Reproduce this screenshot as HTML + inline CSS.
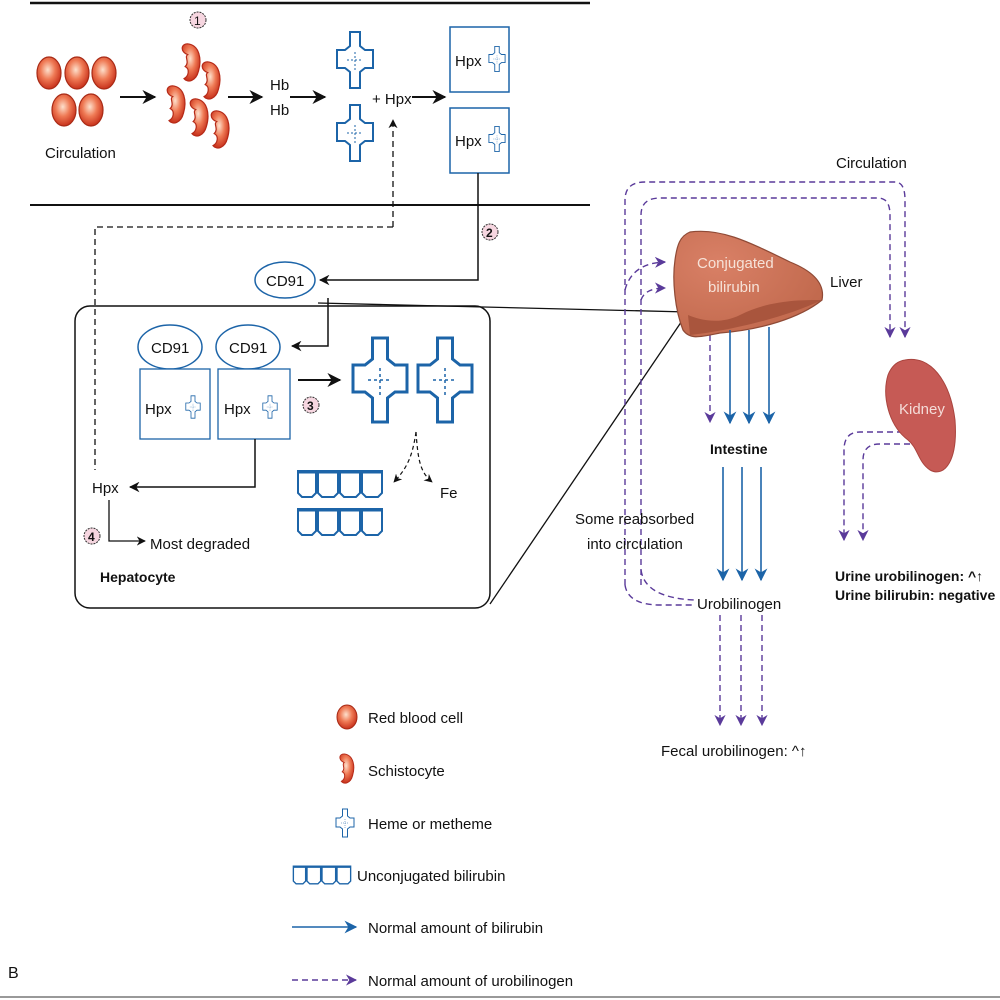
<!DOCTYPE html>
<html><head><meta charset="utf-8"><style>
html,body{margin:0;padding:0;background:#fff}
svg{display:block}
text{font-family:"Liberation Sans",Arial,sans-serif;font-size:15px;fill:#111}
</style></head><body>
<svg width="1000" height="1000" viewBox="0 0 1000 1000" xmlns="http://www.w3.org/2000/svg">
<defs>
<radialGradient id="rbc" cx="0.45" cy="0.4" r="0.6"><stop offset="0" stop-color="#fde0cc"/><stop offset="0.5" stop-color="#ef7a55"/><stop offset="1" stop-color="#c8321c"/></radialGradient>
<radialGradient id="liv" cx="0.3" cy="0.3" r="0.8"><stop offset="0" stop-color="#d98066"/><stop offset="1" stop-color="#c0684c"/></radialGradient>
<marker id="ab" viewBox="0 0 10 10" refX="9" refY="5" markerWidth="7" markerHeight="7" orient="auto"><path d="M0,0 L10,5 L0,10 L3,5z" fill="#111"/></marker>
<marker id="abl" viewBox="0 0 10 10" refX="9" refY="5" markerWidth="8" markerHeight="8" orient="auto"><path d="M0,0 L10,5 L0,10 L3,5z" fill="#1c64a8"/></marker>
<marker id="apu" viewBox="0 0 10 10" refX="9" refY="5" markerWidth="8" markerHeight="8" orient="auto"><path d="M0,0 L10,5 L0,10 L3,5z" fill="#5a3a9a"/></marker>
<symbol id="heme" viewBox="0 0 40 60"><path d="M15,2 H25 V16 L30,20 H38 V38 H30 L25,42 V58 H15 V42 L10,38 H2 V20 H10 L15,16Z" fill="none" stroke="#1c64a8" stroke-width="2"/><path d="M20,22 V40 M12,30 H28" stroke="#1c64a8" stroke-width="1" stroke-dasharray="2,2"/></symbol>
<symbol id="bili" viewBox="0 0 88 30"><path d="M2,2 H20 V24 L16,28 H6 L2,24Z M22,2 H42 V24 L38,28 H26 L22,24Z M44,2 H64 V24 L60,28 H48 L44,24Z M66,2 H86 V24 L82,28 H70 L66,24Z" fill="none" stroke="#1c64a8" stroke-width="2"/><path d="M2,3 H86" stroke="#1c64a8" stroke-width="3"/></symbol>
<symbol id="schis" viewBox="0 0 20 34"><path d="M8,1 C18,2 20,14 17,24 C15,32 8,34 5,30 C9,28 10,22 6,20 C10,16 5,12 8,10 C2,8 2,1 8,1Z" fill="url(#rbc)" stroke="#b52a18" stroke-width="1"/></symbol>
</defs>

<line x1="30" y1="3" x2="590" y2="3" stroke="#111" stroke-width="2.5"/>
<line x1="30" y1="205" x2="590" y2="205" stroke="#111" stroke-width="2"/>
<line x1="0" y1="997" x2="1000" y2="997" stroke="#999" stroke-width="2"/>

<g stroke="#a82a15" stroke-width="1.2" fill="url(#rbc)">
<ellipse cx="49" cy="73" rx="12" ry="16"/><ellipse cx="77" cy="73" rx="12" ry="16"/><ellipse cx="104" cy="73" rx="12" ry="16"/>
<ellipse cx="64" cy="110" rx="12" ry="16"/><ellipse cx="91" cy="110" rx="12" ry="16"/></g>
<text x="45" y="158">Circulation</text>
<line x1="120" y1="97" x2="155" y2="97" stroke="#111" stroke-width="2" marker-end="url(#ab)"/>
<circle cx="198" cy="20" r="8" fill="#f6d6e0" stroke="#333" stroke-dasharray="2,1"/><text x="194" y="25" style="font-size:12px">1</text>
<use href="#schis" x="178" y="40" width="24" height="46"/><use href="#schis" x="198" y="60" width="24" height="42"/>
<use href="#schis" x="163" y="82" width="24" height="46"/><use href="#schis" x="186" y="95" width="24" height="46"/><use href="#schis" x="207" y="106" width="24" height="48"/>
<line x1="228" y1="97" x2="262" y2="97" stroke="#111" stroke-width="2" marker-end="url(#ab)"/>
<text x="270" y="90">Hb</text><text x="270" y="115">Hb</text>
<line x1="290" y1="97" x2="325" y2="97" stroke="#111" stroke-width="2" marker-end="url(#ab)"/>
<use href="#heme" x="335" y="28" width="40" height="64"/><use href="#heme" x="335" y="100" width="40" height="66"/>
<text x="372" y="104">+ Hpx</text>
<line x1="412" y1="97" x2="445" y2="97" stroke="#111" stroke-width="2" marker-end="url(#ab)"/>
<rect x="450" y="27" width="59" height="65" fill="none" stroke="#1c64a8" stroke-width="1.5"/>
<rect x="450" y="108" width="59" height="65" fill="none" stroke="#1c64a8" stroke-width="1.5"/>
<text x="455" y="66">Hpx</text><text x="455" y="146">Hpx</text>
<use href="#heme" x="488" y="45" width="18" height="28"/><use href="#heme" x="488" y="125" width="18" height="28"/>

<path d="M393,227 V120" stroke="#111" stroke-width="1.3" stroke-dasharray="6,4" fill="none" marker-end="url(#ab)"/>
<path d="M393,227 H95 V470" stroke="#111" stroke-width="1.3" stroke-dasharray="6,4" fill="none"/>
<path d="M478,173 V280 H320" stroke="#111" stroke-width="1.5" fill="none" marker-end="url(#ab)"/>
<circle cx="490" cy="232" r="8" fill="#f6d6e0" stroke="#333" stroke-dasharray="2,1"/><text x="486" y="237" style="font-size:12px;font-weight:bold">2</text>
<ellipse cx="285" cy="280" rx="30" ry="18" fill="#fff" stroke="#1c64a8" stroke-width="1.5"/><text x="266" y="286">CD91</text>

<line x1="318" y1="303" x2="688" y2="312" stroke="#111" stroke-width="1.3"/>
<line x1="490" y1="604" x2="688" y2="312" stroke="#111" stroke-width="1.3"/>
<rect x="75" y="306" width="415" height="302" rx="15" fill="none" stroke="#111" stroke-width="1.5"/>
<path d="M328,298 V346 H292" stroke="#111" stroke-width="1.5" fill="none" marker-end="url(#ab)"/>
<ellipse cx="170" cy="347" rx="32" ry="22" fill="#fff" stroke="#1c64a8" stroke-width="1.5"/><text x="151" y="353">CD91</text>
<ellipse cx="248" cy="347" rx="32" ry="22" fill="#fff" stroke="#1c64a8" stroke-width="1.5"/><text x="229" y="353">CD91</text>
<rect x="140" y="369" width="70" height="70" fill="#fff" stroke="#1c64a8" stroke-width="1.3"/>
<rect x="218" y="369" width="72" height="70" fill="#fff" stroke="#1c64a8" stroke-width="1.3"/>
<text x="145" y="414">Hpx</text><text x="224" y="414">Hpx</text>
<use href="#heme" x="185" y="392" width="16" height="30"/><use href="#heme" x="262" y="392" width="16" height="30"/>
<line x1="298" y1="380" x2="340" y2="380" stroke="#111" stroke-width="2" marker-end="url(#ab)"/>
<circle cx="311" cy="405" r="8" fill="#f6d6e0" stroke="#333" stroke-dasharray="2,1"/><text x="307" y="410" style="font-size:12px;font-weight:bold">3</text>
<use href="#heme" x="349" y="335" width="62" height="90"/><use href="#heme" x="414" y="335" width="62" height="90"/>
<path d="M416,432 C412,460 405,470 394,482" stroke="#111" stroke-width="1.2" stroke-dasharray="4,3" fill="none" marker-end="url(#ab)"/>
<path d="M416,432 C418,460 420,472 432,482" stroke="#111" stroke-width="1.2" stroke-dasharray="4,3" fill="none" marker-end="url(#ab)"/>
<text x="440" y="498">Fe</text>
<use href="#bili" x="296" y="468" width="88" height="32"/><use href="#bili" x="296" y="506" width="88" height="32"/>
<path d="M255,439 V487 H130" stroke="#111" stroke-width="1.5" fill="none" marker-end="url(#ab)"/>
<text x="92" y="493">Hpx</text>
<path d="M109,500 V541 H145" stroke="#111" stroke-width="1.3" fill="none" marker-end="url(#ab)"/>
<circle cx="92" cy="536" r="8" fill="#f6d6e0" stroke="#333" stroke-dasharray="2,1"/><text x="88" y="541" style="font-size:12px;font-weight:bold">4</text>
<text x="150" y="549">Most degraded</text>
<text x="100" y="582" style="font-weight:bold;font-size:14px">Hepatocyte</text>

<g stroke="#5a3a9a" stroke-width="1.4" stroke-dasharray="6,4" fill="none">
<path d="M625,585 V200 Q625,182 645,182 H895 Q905,182 905,200 V337" marker-end="url(#apu)"/>
<path d="M641,585 V215 Q641,198 660,198 H878 Q890,198 890,215 V337" marker-end="url(#apu)"/>
<path d="M625,585 Q628,605 660,605 H695"/>
<path d="M641,570 Q645,598 695,600"/>
<path d="M625,290 Q632,263 665,262" marker-end="url(#apu)"/>
<path d="M641,300 Q645,288 665,288" marker-end="url(#apu)"/>
<path d="M710,335 V422" marker-end="url(#apu)"/>
<path d="M720,615 V725" marker-end="url(#apu)"/><path d="M741,615 V725" marker-end="url(#apu)"/><path d="M762,615 V725" marker-end="url(#apu)"/>
<path d="M903,432 H860 Q844,432 844,450 V540" marker-end="url(#apu)"/>
<path d="M910,444 H880 Q863,444 863,460 V540" marker-end="url(#apu)"/>
</g>
<path d="M690,232 C720,228 745,240 790,262 C815,272 825,285 822,300 C800,318 760,330 720,333 C700,337 690,340 683,330 C675,310 672,280 675,260 C677,245 680,236 690,232Z" fill="url(#liv)" stroke="#8f4a36" stroke-width="1.2"/>
<path d="M690,335 C720,332 780,320 822,300 C800,300 770,300 740,315 C720,325 700,320 688,315Z" fill="#a9553d"/>
<text x="697" y="268" style="fill:#f6e2d8">Conjugated</text><text x="708" y="292" style="fill:#f6e2d8">bilirubin</text>
<text x="830" y="287">Liver</text>
<text x="836" y="168">Circulation</text>
<path d="M905,360 C930,355 950,380 955,420 C958,460 945,478 930,470 C918,462 918,448 908,440 C888,425 882,395 888,375 C892,365 898,361 905,360Z" fill="#c65a55" stroke="#a9443e" stroke-width="1"/>
<text x="899" y="414" style="fill:#f4dcd8">Kidney</text>
<g stroke="#1c64a8" stroke-width="1.6">
<line x1="730" y1="330" x2="730" y2="423" marker-end="url(#abl)"/><line x1="749" y1="330" x2="749" y2="423" marker-end="url(#abl)"/><line x1="769" y1="327" x2="769" y2="423" marker-end="url(#abl)"/>
<line x1="723" y1="467" x2="723" y2="580" marker-end="url(#abl)"/><line x1="742" y1="467" x2="742" y2="580" marker-end="url(#abl)"/><line x1="761" y1="467" x2="761" y2="580" marker-end="url(#abl)"/>
</g>
<text x="710" y="454" style="font-weight:bold;font-size:14px">Intestine</text>
<text x="575" y="524">Some reabsorbed</text><text x="587" y="549">into circulation</text>
<text x="697" y="609">Urobilinogen</text>
<text x="661" y="756">Fecal urobilinogen: ^↑</text>
<text x="835" y="581" style="font-weight:bold;font-size:14px">Urine urobilinogen: ^↑</text>
<text x="835" y="600" style="font-weight:bold;font-size:14px">Urine bilirubin: negative</text>

<ellipse cx="347" cy="717" rx="10" ry="12" fill="url(#rbc)" stroke="#a82a15"/>
<text x="368" y="723">Red blood cell</text>
<use href="#schis" x="336" y="753" width="20" height="32"/>
<text x="368" y="776">Schistocyte</text>
<use href="#heme" x="333" y="808" width="24" height="30"/>
<text x="368" y="829">Heme or metheme</text>
<use href="#bili" x="292" y="864" width="60" height="22"/>
<text x="357" y="881">Unconjugated bilirubin</text>
<line x1="292" y1="927" x2="356" y2="927" stroke="#1c64a8" stroke-width="1.6" marker-end="url(#abl)"/>
<text x="368" y="933">Normal amount of bilirubin</text>
<line x1="292" y1="980" x2="356" y2="980" stroke="#5a3a9a" stroke-width="1.4" stroke-dasharray="6,4" marker-end="url(#apu)"/>
<text x="368" y="986">Normal amount of urobilinogen</text>
<text x="8" y="978" style="font-size:16px">B</text>
</svg>
</body></html>
